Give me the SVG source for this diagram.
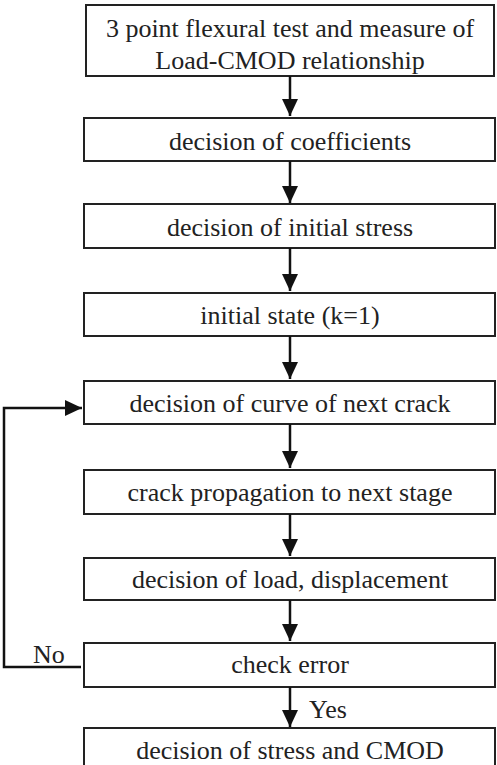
<svg xmlns="http://www.w3.org/2000/svg" width="497" height="765" viewBox="0 0 497 765">
<defs>
<style>
.fcbox{fill:#fff;stroke:#222;stroke-width:2}
.fctext{font-family:"Liberation Serif","Times New Roman",serif;font-size:26px;fill:#222;text-anchor:middle}
.fclabel{font-family:"Liberation Serif","Times New Roman",serif;font-size:26px;fill:#222}
.fcline{fill:none;stroke:#111;stroke-width:2.5}
</style>
<marker id="ah" markerUnits="userSpaceOnUse" markerWidth="17" markerHeight="16" viewBox="0 0 17 16" refX="17" refY="8" orient="auto">
<path d="M0,0 L17,8 L0,16 Z" fill="#111"/>
</marker>
</defs>
<rect width="497" height="765" fill="#fff"/>
<g id="n1"><rect class="fcbox" x="86" y="5" width="408" height="71"/><text class="fctext" x="290" y="37">3 point flexural test and measure of</text><text class="fctext" x="290" y="69">Load-CMOD relationship</text></g>
<g id="n2"><rect class="fcbox" x="84" y="118" width="411" height="43"/><text class="fctext" x="290" y="150">decision of coefficients</text></g>
<g id="n3"><rect class="fcbox" x="84" y="204" width="411" height="44"/><text class="fctext" x="290" y="236">decision of initial stress</text></g>
<g id="n4"><rect class="fcbox" x="84" y="293" width="411" height="43"/><text class="fctext" x="290" y="324">initial state (k=1)</text></g>
<g id="n5"><rect class="fcbox" x="84" y="381" width="411" height="43"/><text class="fctext" x="290" y="412">decision of curve of next crack</text></g>
<g id="n6"><rect class="fcbox" x="84" y="470" width="411" height="44"/><text class="fctext" x="290" y="501">crack propagation to next stage</text></g>
<g id="n7"><rect class="fcbox" x="84" y="558" width="411" height="42"/><text class="fctext" x="290" y="588">decision of load, displacement</text></g>
<g id="n8"><rect class="fcbox" x="84" y="643" width="411" height="44"/><text class="fctext" x="290" y="673">check error</text></g>
<g id="n9"><rect class="fcbox" x="84" y="728" width="411" height="50"/><text class="fctext" x="290" y="759">decision of stress and CMOD</text></g>
<g id="connectors">
<path class="fcline" d="M290,76 V116" marker-end="url(#ah)"/>
<path class="fcline" d="M290,161 V203" marker-end="url(#ah)"/>
<path class="fcline" d="M290,248 V291" marker-end="url(#ah)"/>
<path class="fcline" d="M290,336 V379" marker-end="url(#ah)"/>
<path class="fcline" d="M290,424 V468" marker-end="url(#ah)"/>
<path class="fcline" d="M290,514 V556" marker-end="url(#ah)"/>
<path class="fcline" d="M290,600 V641" marker-end="url(#ah)"/>
<path class="fcline" d="M290,687 V727" marker-end="url(#ah)"/>
<path class="fcline" d="M81,667 H4 V408 H82" marker-end="url(#ah)"/>
<text class="fclabel" x="33" y="663">No</text>
<text class="fclabel" x="309" y="718">Yes</text>
</g>
</svg>
